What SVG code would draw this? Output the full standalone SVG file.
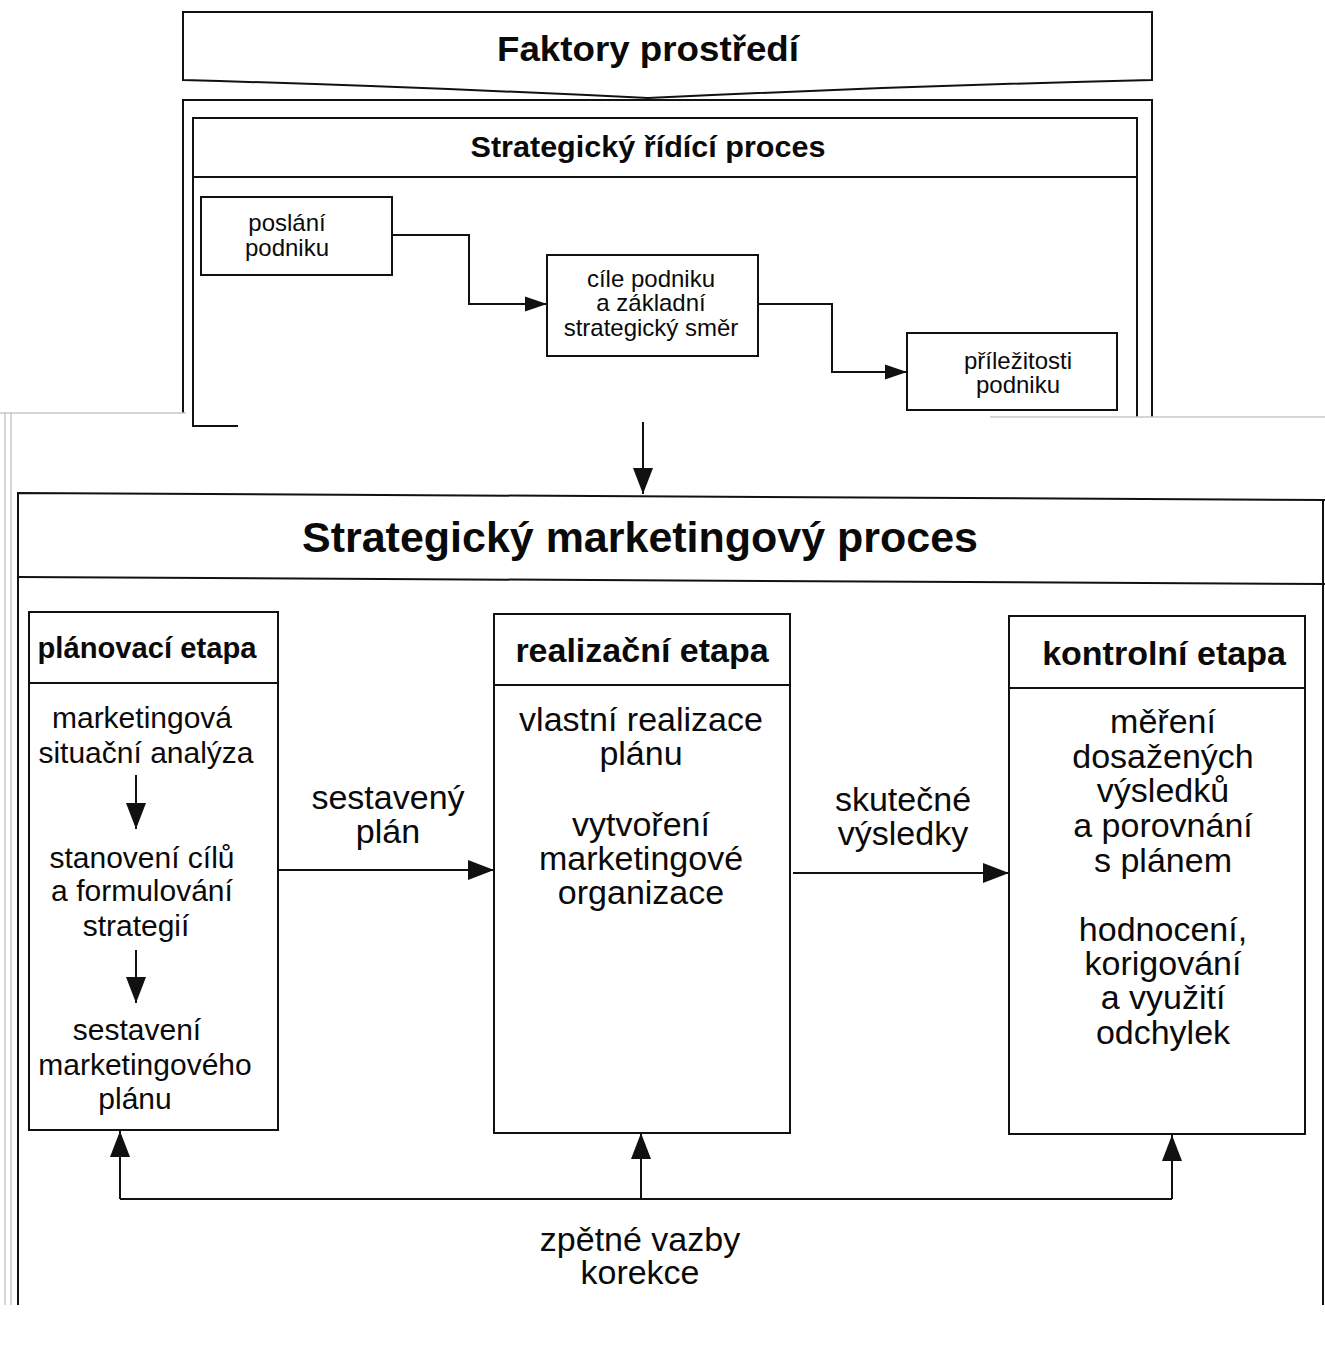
<svg xmlns="http://www.w3.org/2000/svg" width="1325" height="1358" viewBox="0 0 1325 1358">
<style>
.ln{fill:none;stroke:#111;stroke-width:2}
.bx{fill:#fff;stroke:#111;stroke-width:2}
.gr{fill:none;stroke:#c8c8c8;stroke-width:1.5}
text{font-family:"Liberation Sans",Arial,sans-serif;fill:#0a0a0a;text-anchor:middle}
.b{font-weight:bold}
.s{font-size:24px}
.m{font-size:34px}
.n{font-size:30px}
</style>
<defs>
<marker id="ah" markerUnits="userSpaceOnUse" markerWidth="28" markerHeight="20" refX="26" refY="10" orient="auto"><path d="M0,0 L26,10 L0,20 z" fill="#111"/></marker>
<marker id="as" markerUnits="userSpaceOnUse" markerWidth="24" markerHeight="16" refX="22" refY="8" orient="auto"><path d="M0,0.5 L22,8 L0,15.5 z" fill="#111"/></marker>
</defs>
<rect width="1325" height="1358" fill="#fff"/>

<g id="faktory">
<path class="ln" d="M183,80 V12 Q660,14 1152,12 V80 Q900,86 648,98 Q400,86 183,80 z"/>
<text class="b" x="648" y="61" font-size="35" textLength="302" lengthAdjust="spacingAndGlyphs">Faktory prostředí</text>
</g>

<g id="ridici-ramec">
<path class="ln" d="M183,413 V100 H1152 V417"/>
<path class="ln" d="M238,426 H193 V118 H1137 V417"/>
<line class="ln" x1="193" y1="177" x2="1137" y2="177"/>
<text class="b" x="648" y="157" font-size="29" textLength="355" lengthAdjust="spacingAndGlyphs">Strategický řídící proces</text>
</g>

<g id="poslani">
<rect class="bx" x="201" y="197" width="191" height="78"/>
<text class="s" x="287" y="231">poslání</text>
<text class="s" x="287" y="256">podniku</text>
</g>
<g id="cile">
<rect class="bx" x="547" y="255" width="211" height="101"/>
<text class="s" x="651" y="287">cíle podniku</text>
<text class="s" x="651" y="311">a základní</text>
<text class="s" x="651" y="336">strategický směr</text>
</g>
<g id="prilezitosti">
<rect class="bx" x="907" y="333" width="210" height="77"/>
<text class="s" x="1018" y="369">příležitosti</text>
<text class="s" x="1018" y="393">podniku</text>
</g>

<g id="scan-edges">
<line class="gr" x1="0" y1="413" x2="186" y2="413"/>
<line class="gr" x1="990" y1="417" x2="1325" y2="417"/>
<line class="gr" x1="5" y1="412" x2="5" y2="1305"/>
<line class="gr" x1="11" y1="412" x2="11" y2="1305"/>
</g>

<g id="marketing-ramec">
<path class="ln" d="M18,1305 V493 L1325,500"/>
<line class="ln" x1="18" y1="577" x2="1325" y2="584"/>
<line class="ln" x1="1323" y1="500" x2="1323" y2="1305"/>
<text class="b" x="640" y="552" font-size="42" textLength="676" lengthAdjust="spacingAndGlyphs">Strategický marketingový proces</text>
</g>

<g id="planovaci">
<rect class="bx" x="29" y="612" width="249" height="518"/>
<line class="ln" x1="29" y1="683" x2="278" y2="683"/>
<text class="b" x="147" y="658" font-size="30" textLength="219" lengthAdjust="spacingAndGlyphs">plánovací etapa</text>
<text class="n" x="142" y="728">marketingová</text>
<text class="n" x="146" y="763">situační analýza</text>
<text class="n" x="142" y="868">stanovení cílů</text>
<text class="n" x="142" y="901">a formulování</text>
<text class="n" x="136" y="936">strategií</text>
<text class="n" x="137" y="1040">sestavení</text>
<text class="n" x="145" y="1075">marketingového</text>
<text class="n" x="135" y="1109">plánu</text>
</g>

<g id="realizacni">
<rect class="bx" x="494" y="614" width="296" height="519"/>
<line class="ln" x1="494" y1="685" x2="790" y2="685"/>
<text class="b m" x="642" y="662">realizační etapa</text>
<text class="m" x="641" y="731">vlastní realizace</text>
<text class="m" x="641" y="765">plánu</text>
<text class="m" x="641" y="836">vytvoření</text>
<text class="m" x="641" y="870">marketingové</text>
<text class="m" x="641" y="904">organizace</text>
</g>

<g id="kontrolni">
<rect class="bx" x="1009" y="616" width="296" height="518"/>
<line class="ln" x1="1009" y1="688" x2="1305" y2="688"/>
<text class="b m" x="1164" y="665">kontrolní etapa</text>
<text class="m" x="1163" y="733">měření</text>
<text class="m" x="1163" y="768">dosažených</text>
<text class="m" x="1163" y="802">výsledků</text>
<text class="m" x="1163" y="837">a porovnání</text>
<text class="m" x="1163" y="872">s plánem</text>
<text class="m" x="1163" y="941">hodnocení,</text>
<text class="m" x="1163" y="975">korigování</text>
<text class="m" x="1163" y="1009">a využití</text>
<text class="m" x="1163" y="1044">odchylek</text>
</g>

<g id="connectors">
<path class="ln" d="M392,235 H469 V304 H547" marker-end="url(#as)"/>
<path class="ln" d="M758,304 H832 V372 H907" marker-end="url(#as)"/>
<path class="ln" d="M643,422 V494" marker-end="url(#ah)"/>
<path class="ln" d="M136,775 V829" marker-end="url(#ah)"/>
<path class="ln" d="M136,950 V1003" marker-end="url(#ah)"/>
<path class="ln" d="M278,870 H494" marker-end="url(#ah)"/>
<path class="ln" d="M793,873 H1009" marker-end="url(#ah)"/>
<path class="ln" d="M120,1199 H1172"/>
<path class="ln" d="M120,1199 V1131" marker-end="url(#ah)"/>
<path class="ln" d="M641,1199 V1133" marker-end="url(#ah)"/>
<path class="ln" d="M1172,1199 V1135" marker-end="url(#ah)"/>
<text class="m" x="388" y="809">sestavený</text>
<text class="m" x="388" y="843">plán</text>
<text class="m" x="903" y="811">skutečné</text>
<text class="m" x="903" y="845">výsledky</text>
<text class="m" x="640" y="1251">zpětné vazby</text>
<text class="m" x="640" y="1284">korekce</text>
</g>
</svg>
